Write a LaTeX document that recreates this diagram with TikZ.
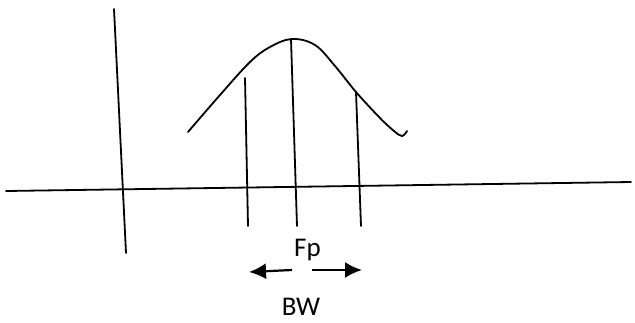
\documentclass[tikz,border=0pt]{standalone}
\usepackage{fontspec}
\setmainfont{Carlito}
\usetikzlibrary{arrows.meta}
\tikzset{
  stroke/.style={line width=1.8pt, line cap=round, line join=round},
  lbl/.style={font=\fontsize{27}{30}\selectfont, anchor=base, inner sep=0pt, text depth=0pt},
  bwarrow/.style={line width=2.2pt, -{Latex[length=17pt,width=16pt]}}
}
\begin{document}
\begin{tikzpicture}[x=1pt,y=-1pt]
\useasboundingbox (0,0) rectangle (635,322);
% axes
\draw[stroke] (114,9) -- (126,253);
\draw[stroke] (6,191) -- (631,182);
% curve
\draw[stroke] plot[smooth, tension=0.6] coordinates {(188,132) (220,95) (250,62) (270,47) (292,39) (315,45) (335,66) (356,92) (380,118) (394,131) (402,136) (407,131)};
% vertical lines
\draw[stroke] (245,78) -- (248,226);
\draw[stroke] (291,39) -- (297,226);
\draw[stroke] (356,92) -- (361,226);
% labels
\node[lbl] (fp) at (307.5,256) {Fp};
\node[lbl] (bw) at (301,315) {BW};
% arrows
\coordinate (la) at (292,270);
\coordinate (lt) at (249,272);
\coordinate (ra) at (312,270);
\coordinate (rt) at (362,270);
\draw[bwarrow] (la) -- (lt);
\draw[bwarrow] (ra) -- (rt);
\end{tikzpicture}
\end{document}
